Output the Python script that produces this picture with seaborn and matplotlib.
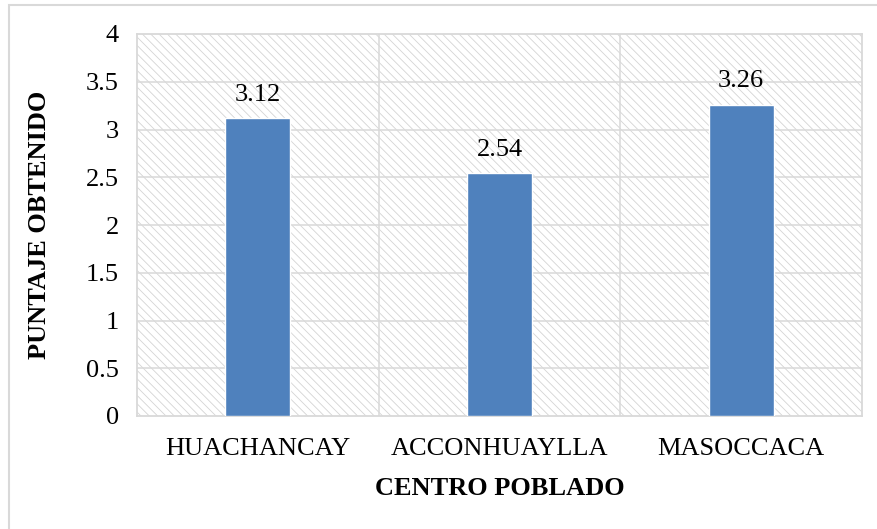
import pandas as pd
import matplotlib
matplotlib.use("Agg")
import matplotlib.pyplot as plt
import seaborn as sns
from matplotlib.patches import Rectangle

# data
centros = ["HUACHANCAY", "ACCONHUAYLLA", "MASOCCACA"]
puntajes = [3.12, 2.54, 3.26]
yticks = [0, 0.5, 1, 1.5, 2, 2.5, 3, 3.5, 4]

df = pd.DataFrame({"centro": centros, "puntaje": puntajes})

sns.set_style("white")
plt.rcParams["font.family"] = ["Liberation Serif", "DejaVu Serif"]
plt.rcParams["text.color"] = "black"
plt.rcParams["axes.labelcolor"] = "black"
plt.rcParams["hatch.color"] = "#d4d4d4"
plt.rcParams["hatch.linewidth"] = 0.6

fig = plt.figure(figsize=(8.78, 5.29), dpi=100)
ax = fig.add_axes([137 / 878, 1 - 416 / 529, (862 - 137) / 878, (416 - 34) / 529])

# hatched plot background
ax.patch.set_facecolor("white")
bg = Rectangle((0, 0), 1, 1, transform=ax.transAxes, facecolor="white",
               edgecolor="#d4d4d4", hatch="\\\\\\\\", linewidth=0, zorder=0)
ax.add_patch(bg)

sns.barplot(data=df, x="centro", y="puntaje", color="#4f81bd", saturation=1,
            width=0.27, ax=ax, zorder=3)

ax.set_ylim(0, 4)
ax.set_xlim(-0.5, 2.5)
ax.set_yticks(yticks)
ax.set_yticklabels([f"{t:g}" for t in yticks])

# grid lines
for t in yticks[1:-1]:
    ax.axhline(t, color="#d9d9d9", lw=1.1, zorder=1)
for x in [0.5, 1.5]:
    ax.axvline(x, color="#d9d9d9", lw=1.1, zorder=1)

for s in ax.spines.values():
    s.set_visible(True)
    s.set_color("#d9d9d9")
    s.set_linewidth(1.3)

ax.tick_params(axis="both", length=0, labelsize=19, colors="black")
ax.tick_params(axis="y", pad=13)
ax.tick_params(axis="x", pad=16)

ax.bar_label(ax.containers[0], labels=[f"{v:.2f}" for v in puntajes],
             fontsize=19, padding=9, color="black")

ax.set_xlabel("CENTRO POBLADO", fontsize=19, fontweight="bold", labelpad=12,
              color="black")
ax.set_ylabel("PUNTAJE OBTENIDO", fontsize=19, fontweight="bold", labelpad=25,
              color="black")

# chart-area border
fig.patches.append(Rectangle((9 / 878, -0.1), 1.2, 1 - 5 / 529 + 0.1,
                             transform=fig.transFigure, fill=False,
                             edgecolor="#d9d9d9", linewidth=1.5))

fig.savefig("out.png", dpi=100)
